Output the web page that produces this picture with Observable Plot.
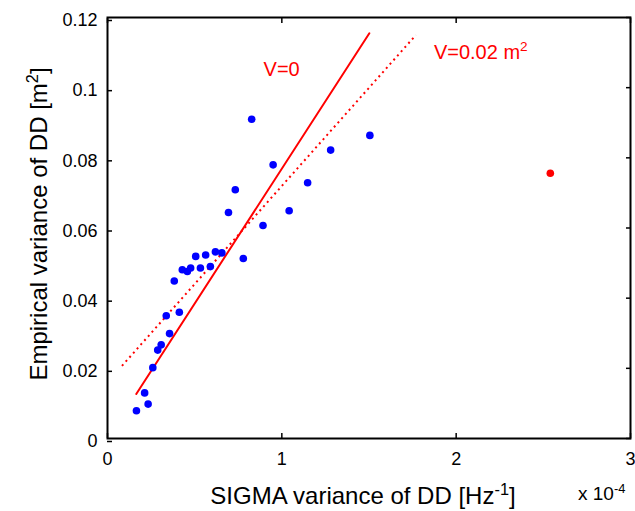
<!DOCTYPE html>
<html>
<head>
<meta charset="utf-8">
<script src="https://cdn.jsdelivr.net/npm/d3@7"></script>
<script src="https://cdn.jsdelivr.net/npm/@observablehq/plot@0.6"></script>
<style>
  html, body { margin: 0; padding: 0; background: white; }
</style>
</head>
<body>
<div id="chart"></div>
<script>
// ---- data (x in units of 1e-4 Hz^-1, y in m^2) ----
const sigmaVar = [0.166, 0.213, 0.233, 0.260, 0.288, 0.308, 0.356, 0.337, 0.412, 0.383,
                  0.429, 0.458, 0.477, 0.533, 0.506, 0.563, 0.590, 0.619, 0.656, 0.779,
                  0.694, 0.733, 0.827, 0.892, 0.950, 1.042, 1.148, 1.280, 1.505];
const empVar   = [0.0079, 0.0130, 0.0098, 0.0202, 0.0252, 0.0267, 0.0299, 0.0350, 0.0360, 0.0449,
                  0.0481, 0.0476, 0.0486, 0.0486, 0.0519, 0.0523, 0.0490, 0.0532, 0.0529, 0.0513,
                  0.0644, 0.0709, 0.0910, 0.0607, 0.0780, 0.0649, 0.0729, 0.0822, 0.0864];
const outlierX = [2.540];
const outlierY = [0.0756];

// fitted lines (end points)
const lineV0X = [0.165, 1.502];
const lineV0Y = [0.0127, 0.1155];
const lineV2X = [0.083, 1.769];
const lineV2Y = [0.0207, 0.1150];

const xTicks = [0, 1, 2, 3];
const yTicks = [0, 0.02, 0.04, 0.06, 0.08, 0.1, 0.12];
const yTickLabels = ["0", "0.02", "0.04", "0.06", "0.08", "0.1", "0.12"];
const xTickLabels = ["0", "1", "2", "3"];

// annotation anchors (data space)
const annV0 = {x: 0.898, y: 0.1032, text: "V=0"};
const annV2 = {x: 1.875, y: 0.1081, text: "V=0.02 m", sup: "2"};

const points = sigmaVar.map((x, i) => ({x, y: empVar[i]}));
const outliers = outlierX.map((x, i) => ({x, y: outlierY[i]}));
const v0 = lineV0X.map((x, i) => ({x, y: lineV0Y[i]}));
const v2 = lineV2X.map((x, i) => ({x, y: lineV2Y[i]}));

const FONT = "'Liberation Sans', Arial, Helvetica, sans-serif";

const plot = Plot.plot({
  width: 635,
  height: 511,
  marginLeft: 107,
  marginRight: 5,
  marginTop: 17,
  marginBottom: 73,
  style: {fontFamily: FONT, fontSize: "18px", background: "white", color: "black", overflow: "visible"},
  x: {domain: [0, 3]},
  y: {domain: [0, 0.12]},
  marks: [
    Plot.axisX(xTicks, {anchor: "bottom", tickSize: -5, tickPadding: 19, strokeWidth: 1.5,
      tickFormat: (d, i) => xTickLabels[i], label: null, fontSize: 18}),
    Plot.axisX(xTicks, {anchor: "top", tickSize: -5, strokeWidth: 1.5, tickFormat: () => "", label: null}),
    Plot.axisY(yTicks, {anchor: "left", tickSize: -5, tickPadding: 15, dy: 3, strokeWidth: 1.5,
      tickFormat: (d, i) => yTickLabels[i], label: null, fontSize: 18}),
    Plot.axisY(yTicks, {anchor: "right", tickSize: -5, strokeWidth: 1.5, tickFormat: () => "", label: null}),
    Plot.line(v2, {x: "x", y: "y", stroke: "#ff0000", strokeWidth: 2, strokeDasharray: "2 3.6", strokeLinecap: "butt"}),
    Plot.line(v0, {x: "x", y: "y", stroke: "#ff0000", strokeWidth: 2}),
    Plot.dot(points, {x: "x", y: "y", r: 3.8, fill: "#0000ff", stroke: null}),
    Plot.dot(outliers, {x: "x", y: "y", r: 3.8, fill: "#ff0000", stroke: null}),
    Plot.frame({stroke: "black", strokeWidth: 2})
  ]
});

document.getElementById("chart").appendChild(plot);

const svg = d3.select(plot);
const sx = plot.scale("x"), sy = plot.scale("y");

function supText(sel, main, sup, tail) {
  sel.append("tspan").text(main);
  sel.append("tspan").attr("font-size", "0.68em").attr("dy", "-0.55em").text(sup);
  if (tail) sel.append("tspan").attr("dy", "0.374em").text(tail);
}

// y axis label
const yl = svg.append("text")
  .attr("transform", "translate(47,224) rotate(-90)")
  .attr("text-anchor", "middle")
  .attr("font-family", FONT).attr("font-size", 24).attr("fill", "black");
supText(yl, "Empirical variance of DD [m", "2", "]");

// x axis label
const xl = svg.append("text")
  .attr("x", 363).attr("y", 504)
  .attr("text-anchor", "middle")
  .attr("font-family", FONT).attr("font-size", 24).attr("fill", "black");
supText(xl, "SIGMA variance of DD [Hz", "-1", "]");

// exponent
const ex = svg.append("text")
  .attr("x", 578).attr("y", 500)
  .attr("text-anchor", "start")
  .attr("font-family", FONT).attr("font-size", 19).attr("fill", "black");
supText(ex, "x 10", "-4", null);

// annotations
svg.append("text")
  .attr("x", sx.apply(annV0.x)).attr("y", sy.apply(annV0.y))
  .attr("text-anchor", "start")
  .attr("font-family", FONT).attr("font-size", 20).attr("fill", "#ff0000")
  .text(annV0.text);
const a2 = svg.append("text")
  .attr("x", sx.apply(annV2.x)).attr("y", sy.apply(annV2.y))
  .attr("text-anchor", "start")
  .attr("font-family", FONT).attr("font-size", 20).attr("fill", "#ff0000");
supText(a2, annV2.text, annV2.sup, null);
</script>
</body>
</html>
